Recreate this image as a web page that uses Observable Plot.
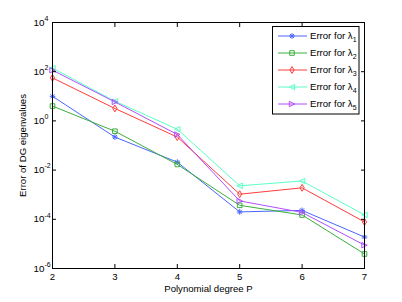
<!DOCTYPE html>
<html>
<head>
<meta charset="utf-8">
<script src="https://cdn.jsdelivr.net/npm/d3@7"></script>
<script src="https://cdn.jsdelivr.net/npm/@observablehq/plot@0.6"></script>
<style>
  html, body { margin: 0; padding: 0; background: white; }
  #wrap { position: relative; width: 402px; height: 302px; }
  #legend { position: absolute; left: 0; top: 0; }
</style>
</head>
<body>
<div id="wrap"></div>
<script>
// ---- data ----
const degrees = [2, 3, 4, 5, 6, 7];
const err1 = [10, 0.22, 0.021, 2.0e-4, 2.3e-4, 1.9e-5];
const err2 = [4.0, 0.38, 0.017, 3.7e-4, 1.5e-4, 3.9e-6];
const err3 = [56, 3.2, 0.22, 1.05e-3, 1.9e-3, 7.8e-5];
const err4 = [140, 6.3, 0.46, 2.3e-3, 3.6e-3, 1.5e-4];
const err5 = [115, 5.9, 0.28, 5.6e-4, 1.9e-4, 8.9e-6];
const seriesNames = ["1", "2", "3", "4", "5"];
const yTicks = [1e4, 1e2, 1, 1e-2, 1e-4, 1e-6];
const xLabel = "Polynomial degree P";
const yLabel = "Error of DG eigenvalues";

// ---- symbols ----
const rOf = size => Math.sqrt(size / Math.PI);
const symStar = {draw(c, size) { const r = rOf(size) * 0.95;
  for (let k = 0; k < 4; k++) { const a = k * Math.PI / 4;
    c.moveTo(-r * Math.cos(a), -r * Math.sin(a)); c.lineTo(r * Math.cos(a), r * Math.sin(a)); } }};
const symSquare = {draw(c, size) { const h = rOf(size) * 0.77;
  c.moveTo(-h, -h); c.lineTo(h, -h); c.lineTo(h, h); c.lineTo(-h, h); c.closePath(); }};
const symDiamond = {draw(c, size) { const r = rOf(size);
  c.moveTo(0, -1.15 * r); c.lineTo(0.7 * r, 0); c.lineTo(0, 1.15 * r); c.lineTo(-0.7 * r, 0); c.closePath(); }};
const symLeft = {draw(c, size) { const r = rOf(size) * 0.9;
  c.moveTo(-r, 0); c.lineTo(r, -r); c.lineTo(r, r); c.closePath(); }};
const symRight = {draw(c, size) { const r = rOf(size) * 0.9;
  c.moveTo(r, 0); c.lineTo(-r, -r); c.lineTo(-r, r); c.closePath(); }};

const series = [
  {name: seriesNames[0], values: err1, color: "#4a66ff", symbol: symStar},
  {name: seriesNames[1], values: err2, color: "#3cae3c", symbol: symSquare},
  {name: seriesNames[2], values: err3, color: "#ff3c3c", symbol: symDiamond},
  {name: seriesNames[3], values: err4, color: "#5cffc4", symbol: symLeft},
  {name: seriesNames[4], values: err5, color: "#b050ff", symbol: symRight}
];

const font = "'Liberation Sans', Arial, Helvetica, sans-serif";
const marks = [];
for (const s of series) {
  const rows = degrees.map((p, i) => ({P: p, err: s.values[i]}));
  marks.push(Plot.line(rows, {x: "P", y: "err", stroke: s.color, strokeWidth: 1}));
  marks.push(Plot.dot(rows, {x: "P", y: "err", stroke: s.color, fill: "none", r: 3, strokeWidth: 1, symbol: s.symbol}));
}

const chart = Plot.plot({
  width: 402, height: 302,
  marginLeft: 52, marginRight: 38, marginTop: 22, marginBottom: 34,
  style: {fontFamily: font, fontSize: "9.6px", background: "white", color: "black", overflow: "visible"},
  x: {domain: [2, 7], label: null},
  y: {type: "log", domain: [1e-6, 1e4], label: null},
  marks: [
    ...marks,
    Plot.frame({stroke: "black", strokeWidth: 1}),
    Plot.axisX({ticks: degrees, tickSize: -4, tickPadding: 9, tickFormat: d3.format("d"), label: null}),
    Plot.axisX({anchor: "top", ticks: degrees, tickSize: -4, tickFormat: () => "", label: null}),
    Plot.axisY({ticks: yTicks, tickSize: -4, tickPadding: 12, fontSize: 9.8, tickFormat: () => "10", label: null}),
    Plot.axisY({anchor: "right", ticks: yTicks, tickSize: -4, tickFormat: () => "", label: null}),
    Plot.text(yTicks, {y: d => d, frameAnchor: "left", text: d => String(Math.round(Math.log10(d))), textAnchor: "start", dx: -8, dy: -4, fontSize: 7}),
    Plot.text([xLabel], {frameAnchor: "bottom", text: d => d, dy: 20, lineAnchor: "middle", textAnchor: "middle"}),
    Plot.text([yLabel], {frameAnchor: "left", text: d => d, rotate: -90, dx: -30, lineAnchor: "middle", textAnchor: "middle"})
  ]
});
const wrap = document.getElementById("wrap");
wrap.appendChild(chart);

// ---- legend overlay ----
const lg = d3.select(wrap).append("svg").attr("id", "legend")
  .attr("width", 402).attr("height", 302)
  .style("font-family", font).style("font-size", "9.6px");
lg.append("rect").attr("x", 272.5).attr("y", 26.5).attr("width", 86.5).attr("height", 87.5)
  .attr("fill", "white").attr("stroke", "black").attr("stroke-width", 1);
series.forEach((s, i) => {
  const y = 36 + i * 17;
  lg.append("line").attr("x1", 278).attr("x2", 307).attr("y1", y).attr("y2", y)
    .attr("stroke", s.color).attr("stroke-width", 1);
  lg.append("path").attr("transform", `translate(292,${y})`)
    .attr("d", d3.symbol(s.symbol, 9 * Math.PI)())
    .attr("fill", "none").attr("stroke", s.color).attr("stroke-width", 1);
  const t = lg.append("text").attr("x", 310).attr("y", y + 3.3).attr("fill", "black");
  t.append("tspan").text("Error for \u03bb");
  t.append("tspan").attr("dy", 3).attr("font-size", "7px").text(s.name);
});
</script>
</body>
</html>
